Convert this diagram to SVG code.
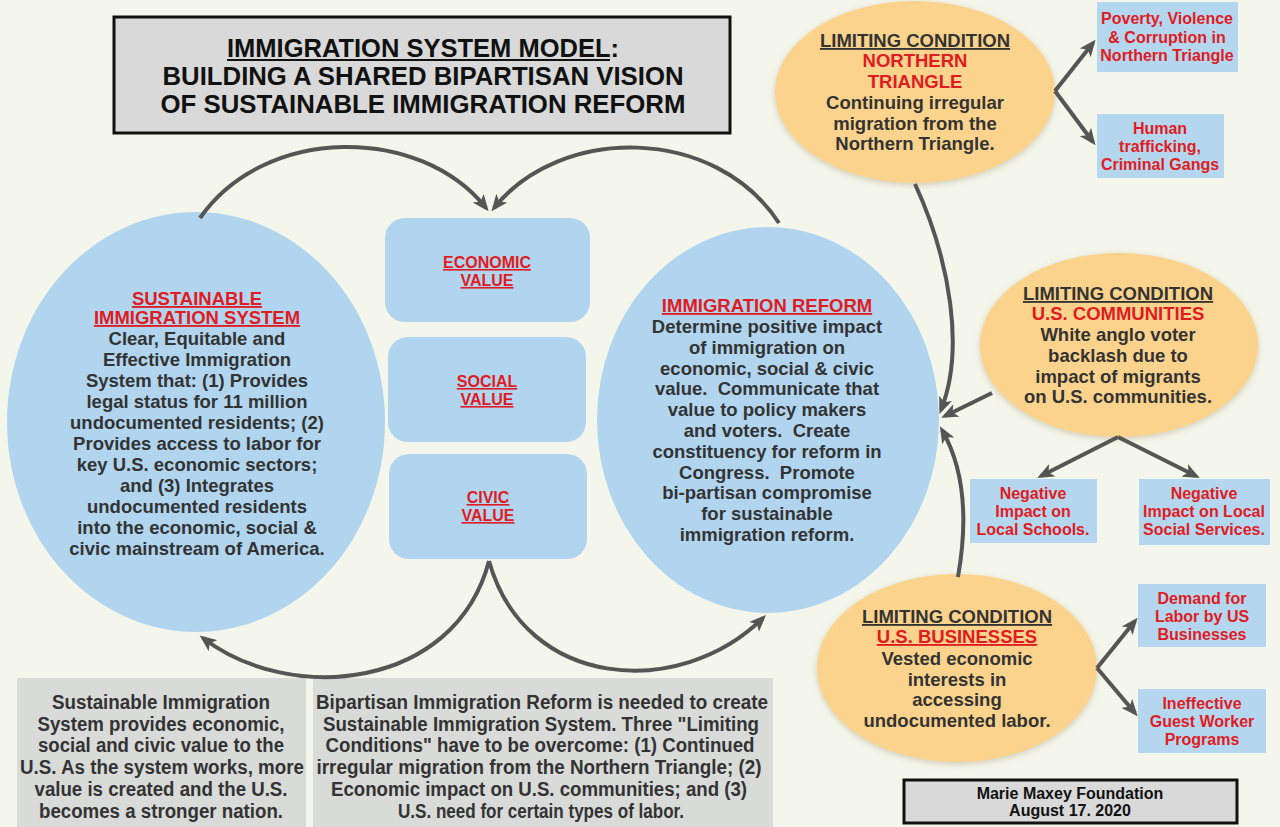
<svg xmlns="http://www.w3.org/2000/svg" width="1280" height="827" viewBox="0 0 1280 827">
<defs>
<style>
.bg{fill:#f4f6eb}
.blue{fill:#b1d5ef}
.sbox{fill:#b4d7ef}
.orange{fill:#fcd38c}
.gray{fill:#d9dbd9}
.frame{fill:#d9d9d9;stroke:#111;stroke-width:3}
text{font-family:"Liberation Sans",Arial,sans-serif;font-weight:bold;text-anchor:middle}
.b{font-size:18.5px;fill:#333}
.r{font-size:18.5px;fill:#e01b22}
.u{text-decoration:underline}
.sr{font-size:16px;fill:#e01b22}
.ft{font-size:16px;fill:#111}
.nar{font-family:"Liberation Sans Narrow","Liberation Sans",Arial,sans-serif}
.ttl{font-size:26px;fill:#111}
.bt{font-size:20px;fill:#333}
.con{fill:none;stroke:#555;stroke-width:4}
</style>
<marker id="ah" viewBox="0 0 12 10" refX="9" refY="5" markerWidth="17" markerHeight="14" markerUnits="userSpaceOnUse" orient="auto">
<path d="M0,0 L12,5 L0,10 L3,5 Z" fill="#555"/>
</marker>
<filter id="sh" x="-10%" y="-10%" width="120%" height="125%">
<feDropShadow dx="0" dy="2" stdDeviation="3" flood-color="#8a7a50" flood-opacity="0.35"/>
</filter>
</defs>
<rect class="bg" x="0" y="0" width="1280" height="827"/>

<g id="title">
<rect class="frame" x="114" y="17" width="616" height="116"/>
<text class="nar ttl" x="423" y="57" textLength="392" lengthAdjust="spacingAndGlyphs">IMMIGRATION SYSTEM MODEL:</text>
<line x1="227" y1="60" x2="610" y2="60" stroke="#111" stroke-width="2"/>
<text class="nar ttl" x="423" y="85" textLength="521" lengthAdjust="spacingAndGlyphs">BUILDING A SHARED BIPARTISAN VISION</text>
<text class="nar ttl" x="423" y="113" textLength="525" lengthAdjust="spacingAndGlyphs">OF SUSTAINABLE IMMIGRATION REFORM</text>
</g>

<g id="sustainable-system">
<ellipse class="blue" cx="196" cy="422" rx="189" ry="210"/>
<text class="r u" x="197" y="305">SUSTAINABLE</text>
<text class="r u" x="197" y="324">IMMIGRATION SYSTEM</text>
<text class="b" x="197" y="345">Clear, Equitable and</text>
<text class="b" x="197" y="366">Effective Immigration</text>
<text class="b" x="197" y="387">System that: (1) Provides</text>
<text class="b" x="197" y="408">legal status for 11 million</text>
<text class="b" x="197" y="429">undocumented residents; (2)</text>
<text class="b" x="197" y="450">Provides access to labor for</text>
<text class="b" x="197" y="471">key U.S. economic sectors;</text>
<text class="b" x="197" y="492">and (3) Integrates</text>
<text class="b" x="197" y="513">undocumented residents</text>
<text class="b" x="197" y="534">into the economic, social &amp;</text>
<text class="b" x="197" y="555">civic mainstream of America.</text>
</g>

<g id="economic-value">
<rect class="blue" x="385" y="218" width="205" height="104" rx="20"/>
<text class="sr u" x="487" y="268">ECONOMIC</text>
<text class="sr u" x="487" y="286">VALUE</text>
</g>
<g id="social-value">
<rect class="blue" x="388" y="337" width="198" height="105" rx="20"/>
<text class="sr u" x="487" y="387">SOCIAL</text>
<text class="sr u" x="487" y="405">VALUE</text>
</g>
<g id="civic-value">
<rect class="blue" x="389" y="454" width="198" height="105" rx="20"/>
<text class="sr u" x="488" y="503">CIVIC</text>
<text class="sr u" x="488" y="521">VALUE</text>
</g>

<g id="immigration-reform">
<ellipse class="blue" cx="768" cy="420" rx="171" ry="193"/>
<text class="r u" x="767" y="312">IMMIGRATION REFORM</text>
<text class="b" x="767" y="333">Determine positive impact</text>
<text class="b" x="767" y="354">of immigration on</text>
<text class="b" x="767" y="375">economic, social &amp; civic</text>
<text class="b" x="767" y="395" xml:space="preserve">value.  Communicate that</text>
<text class="b" x="767" y="416">value to policy makers</text>
<text class="b" x="767" y="437" xml:space="preserve">and voters.  Create</text>
<text class="b" x="767" y="458">constituency for reform in</text>
<text class="b" x="767" y="479" xml:space="preserve">Congress.  Promote</text>
<text class="b" x="767" y="499">bi-partisan compromise</text>
<text class="b" x="767" y="520">for sustainable</text>
<text class="b" x="767" y="541">immigration reform.</text>
</g>

<g id="lc-northern-triangle">
<ellipse class="orange" filter="url(#sh)" cx="915" cy="92" rx="140" ry="91"/>
<text class="b u" x="915" y="47">LIMITING CONDITION</text>
<text class="r" x="915" y="67">NORTHERN</text>
<text class="r" x="915" y="88">TRIANGLE</text>
<text class="b" x="915" y="109">Continuing irregular</text>
<text class="b" x="915" y="130">migration from the</text>
<text class="b" x="915" y="150">Northern Triangle.</text>
</g>

<g id="poverty">
<rect class="sbox" x="1097" y="2" width="141" height="70"/>
<text class="sr" x="1167" y="24">Poverty, Violence</text>
<text class="sr" x="1167" y="43">&amp; Corruption in</text>
<text class="sr" x="1167" y="61">Northern Triangle</text>
</g>
<g id="trafficking">
<rect class="sbox" x="1097" y="114" width="127" height="64"/>
<text class="sr" x="1160" y="134">Human</text>
<text class="sr" x="1160" y="152">trafficking,</text>
<text class="sr" x="1160" y="170">Criminal Gangs</text>
</g>

<g id="lc-communities">
<ellipse class="orange" filter="url(#sh)" cx="1119" cy="345" rx="139" ry="92"/>
<text class="b u" x="1118" y="300">LIMITING CONDITION</text>
<text class="r" x="1118" y="320">U.S. COMMUNITIES</text>
<text class="b" x="1118" y="341">White anglo voter</text>
<text class="b" x="1118" y="362">backlash due to</text>
<text class="b" x="1118" y="383">impact of migrants</text>
<text class="b" x="1118" y="403">on U.S. communities.</text>
</g>
<g id="schools">
<rect class="sbox" x="970" y="479" width="127" height="64"/>
<text class="sr" x="1033" y="499">Negative</text>
<text class="sr" x="1033" y="517">Impact on</text>
<text class="sr" x="1033" y="535">Local Schools.</text>
</g>
<g id="social-services">
<rect class="sbox" x="1139" y="479" width="131" height="66"/>
<text class="sr" x="1204" y="499">Negative</text>
<text class="sr" x="1204" y="517">Impact on Local</text>
<text class="sr" x="1204" y="535">Social Services.</text>
</g>

<g id="lc-businesses">
<ellipse class="orange" filter="url(#sh)" cx="957" cy="668" rx="140" ry="94"/>
<text class="b u" x="957" y="623">LIMITING CONDITION</text>
<text class="r u" x="957" y="643">U.S. BUSINESSES</text>
<text class="b" x="957" y="665">Vested economic</text>
<text class="b" x="957" y="686">interests in</text>
<text class="b" x="957" y="706">accessing</text>
<text class="b" x="957" y="727">undocumented labor.</text>
</g>
<g id="labor-demand">
<rect class="sbox" x="1138" y="584" width="128" height="63"/>
<text class="sr" x="1202" y="604">Demand for</text>
<text class="sr" x="1202" y="622">Labor by US</text>
<text class="sr" x="1202" y="640">Businesses</text>
</g>
<g id="guest-worker">
<rect class="sbox" x="1138" y="689" width="128" height="64"/>
<text class="sr" x="1202" y="709">Ineffective</text>
<text class="sr" x="1202" y="727">Guest Worker</text>
<text class="sr" x="1202" y="745">Programs</text>
</g>

<g id="note-system">
<rect class="gray" x="17" y="678" width="289" height="149"/>
<text class="nar bt" x="161" y="709" textLength="218" lengthAdjust="spacingAndGlyphs">Sustainable Immigration</text>
<text class="nar bt" x="161" y="731" textLength="247" lengthAdjust="spacingAndGlyphs">System provides economic,</text>
<text class="nar bt" x="161" y="752" textLength="246" lengthAdjust="spacingAndGlyphs">social and civic value to the</text>
<text class="nar bt" x="162" y="774" textLength="284" lengthAdjust="spacingAndGlyphs">U.S. As the system works, more</text>
<text class="nar bt" x="161" y="796" textLength="253" lengthAdjust="spacingAndGlyphs">value is created and the U.S.</text>
<text class="nar bt" x="161" y="818" textLength="244" lengthAdjust="spacingAndGlyphs">becomes a stronger nation.</text>
</g>
<g id="note-reform">
<rect class="gray" x="313" y="678" width="460" height="149"/>
<text class="nar bt" x="542" y="709" textLength="452" lengthAdjust="spacingAndGlyphs">Bipartisan Immigration Reform is needed to create</text>
<text class="nar bt" x="541" y="731" textLength="436" lengthAdjust="spacingAndGlyphs">Sustainable Immigration System. Three "Limiting</text>
<text class="nar bt" x="540" y="752" textLength="429" lengthAdjust="spacingAndGlyphs">Conditions" have to be overcome: (1) Continued</text>
<text class="nar bt" x="539" y="774" textLength="445" lengthAdjust="spacingAndGlyphs">irregular migration from the Northern Triangle; (2)</text>
<text class="nar bt" x="539" y="796" textLength="416" lengthAdjust="spacingAndGlyphs">Economic impact on U.S. communities; and (3)</text>
<text class="nar bt" x="541" y="818" textLength="286" lengthAdjust="spacingAndGlyphs">U.S. need for certain types of labor.</text>
</g>

<g id="credit">
<rect class="frame" x="904" y="780" width="333" height="43"/>
<text class="ft" x="1070" y="799">Marie Maxey Foundation</text>
<text class="ft" x="1070" y="816">August 17. 2020</text>
</g>

<g id="connectors">
<path class="con" marker-end="url(#ah)" d="M200,218 C265,125 420,125 486,208"/>
<path class="con" marker-end="url(#ah)" d="M779,223 C715,125 560,125 494,208"/>
<path class="con" marker-end="url(#ah)" d="M489,561 C455,690 290,705 203,638"/>
<path class="con" marker-end="url(#ah)" d="M489,561 C525,690 680,700 763,618"/>
<path class="con" marker-end="url(#ah)" d="M915,184 C950,260 965,350 941,410"/>
<path class="con" marker-end="url(#ah)" d="M958,577 C968,520 965,470 942,430"/>
<path class="con" marker-end="url(#ah)" d="M992,393 L945,416"/>
<path class="con" marker-end="url(#ah)" d="M1055,91 L1093,43"/>
<path class="con" marker-end="url(#ah)" d="M1055,91 L1093,142"/>
<path class="con" marker-end="url(#ah)" d="M1118,437 L1041,476"/>
<path class="con" marker-end="url(#ah)" d="M1118,437 L1196,476"/>
<path class="con" marker-end="url(#ah)" d="M1097,668 L1135,621"/>
<path class="con" marker-end="url(#ah)" d="M1097,668 L1135,713"/>
</g>
</svg>
